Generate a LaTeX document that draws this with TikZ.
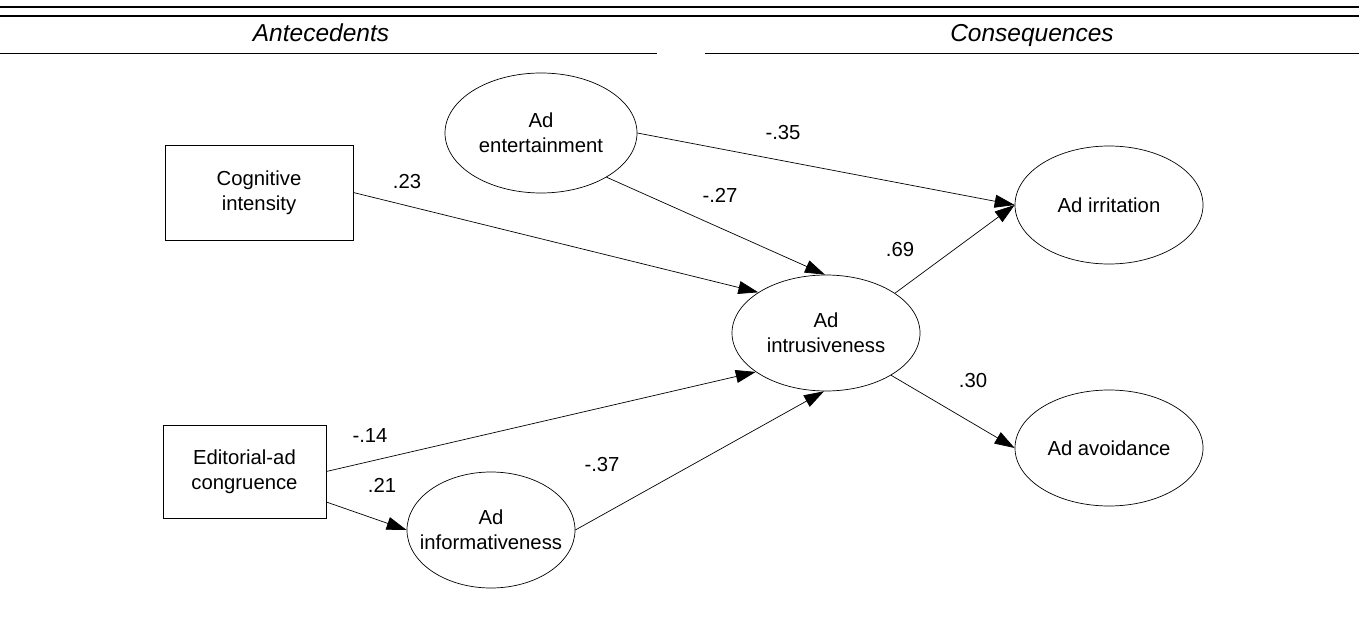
\documentclass[tikz,border=0pt]{standalone}
\usepackage{fontspec}
\setmainfont{Liberation Sans}
\usetikzlibrary{arrows.meta,shapes.geometric}
\begin{document}
\begin{tikzpicture}[x=1pt,y=-1pt,
  box/.style={draw, line width=0.7pt, rectangle, inner sep=0pt},
  oval/.style={draw, line width=0.7pt, ellipse, inner sep=0pt},
  txt/.style={align=center, font=\fontsize{20.3}{25}\selectfont, inner sep=0pt},
  coef/.style={font=\fontsize{20.3}{25}\selectfont, inner sep=0pt},
  hdr/.style={font=\fontsize{24.5}{28}\selectfont\itshape, inner sep=0pt, anchor=base},
  conn/.style={line width=0.7pt, -{Triangle[length=20pt,width=13pt]}},
  toprule/.style={line width=1.3pt},
  subrule/.style={line width=0.9pt}
]
\useasboundingbox (0,0) rectangle (1359,617);

% header rules
\draw[toprule] (0,7) -- (1359,7);
\draw[toprule] (0,16) -- (1359,16);
\draw[subrule] (0,53) -- (657,53);
\draw[subrule] (705,53) -- (1359,53);
\node[hdr] (hant) at (321,42) {Antecedents};
\node[hdr] (hcon) at (1032,42) {Consequences};

% shapes
\node[box, minimum width=188pt, minimum height=95pt] (cog) at (259,192.5) {};
\node[box, minimum width=163pt, minimum height=93pt] (edit) at (244.5,471.5) {};
\node[oval, minimum width=192pt, minimum height=120pt] (ent) at (541,133) {};
\node[oval, minimum width=188pt, minimum height=116pt] (intr) at (826,333) {};
\node[oval, minimum width=168pt, minimum height=116pt] (info) at (491,530) {};
\node[oval, minimum width=188pt, minimum height=118pt] (irr) at (1109,205) {};
\node[oval, minimum width=188pt, minimum height=116pt] (avoid) at (1109,448) {};

% texts
\node[txt] (tcog) at (cog) {Cognitive\\intensity};
\node[txt] (tedit) at (edit) {Editorial-ad\\congruence};
\node[txt] (tent) at (ent) {Ad\\entertainment};
\node[txt] (tintr) at (intr) {Ad\\intrusiveness};
\node[txt] (tinfo) at (info) {Ad\\informativeness};
\node[txt] (tirr) at (irr) {Ad irritation};
\node[txt] (tavoid) at (avoid) {Ad avoidance};

% connectors
\draw[conn] (cog.east) -- (intr.149);
\draw[conn] (ent.-34) -- (intr.91);
\draw[conn] (ent.east) -- (irr.west);
\draw[conn] (edit.east) -- (intr.209);
\draw[conn] ([yshift=-30.5pt]edit.east) -- (info.west);
\draw[conn] (info.east) -- (intr.268);
\draw[conn] (intr.30) -- (irr.west);
\draw[conn] (intr.-33) -- (avoid.west);

% coefficients
\node[coef] (c1) at (407,182) {.23};
\node[coef] (c2) at (783,133) {-.35};
\node[coef] (c3) at (720,195) {-.27};
\node[coef] (c4) at (900,250) {.69};
\node[coef] (c5) at (973,381) {.30};
\node[coef] (c6) at (370,436) {-.14};
\node[coef] (c7) at (382,485) {.21};
\node[coef] (c8) at (602,465) {-.37};
\end{tikzpicture}
\end{document}
